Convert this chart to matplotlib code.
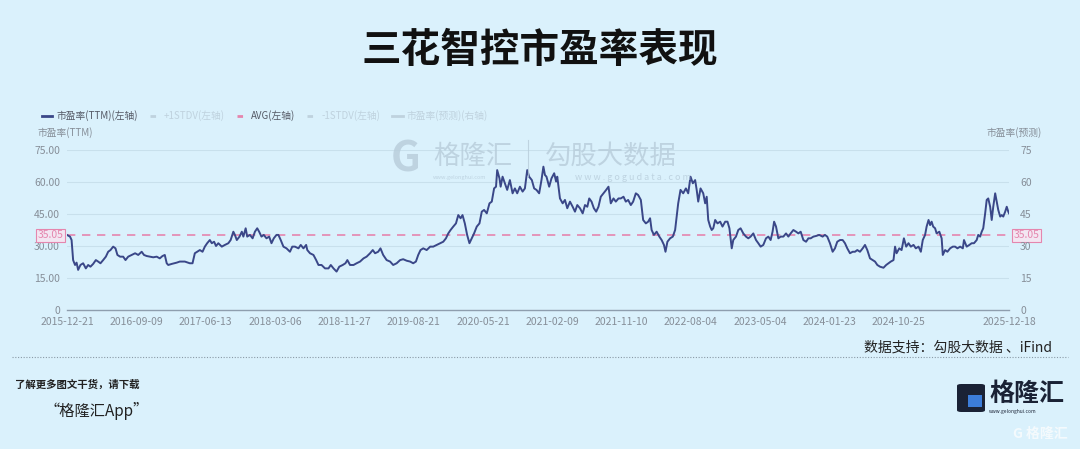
import matplotlib
matplotlib.use("Agg")
import matplotlib.pyplot as plt
from matplotlib.lines import Line2D
from matplotlib.patches import FancyBboxPatch

plt.rcParams['font.family'] = ['Noto Sans CJK SC', 'DejaVu Sans']

# trading-day number since 2015-12-21 and PE(TTM)
trade_day = [
    0, 8, 12, 16, 21, 25, 29, 35, 42, 49, 55, 61, 68, 75, 81, 87, 94, 101, 107, 113,
    120, 126, 131, 138, 146, 152, 159, 168, 177, 185, 194, 200, 207, 215, 224, 233, 241, 248, 254, 259,
    263, 272, 285, 293, 306, 319, 326, 332, 338, 345, 352, 358, 364, 371, 376, 382, 387, 393, 402, 410,
    419, 425, 432, 436, 441, 448, 454, 458, 464, 468, 475, 482, 488, 494, 499, 505, 511, 518, 525, 531,
    537, 544, 549, 555, 562, 570, 579, 585, 592, 601, 607, 614, 621, 624, 631, 640, 647, 653, 661, 670,
    679, 685, 692, 700, 707, 716, 723, 728, 735, 744, 752, 761, 770, 778, 787, 794, 800, 808, 814, 821,
    830, 839, 847, 856, 865, 873, 882, 891, 899, 906, 912, 918, 925, 934, 943, 951, 960, 969, 977, 984,
    990, 996, 1003, 1010, 1016, 1022, 1027, 1033, 1039, 1045, 1051, 1057, 1064, 1071, 1077, 1083, 1090, 1097, 1103, 1109,
    1114, 1117, 1123, 1126, 1131, 1137, 1143, 1150, 1157, 1163, 1169, 1176, 1183, 1189, 1195, 1200, 1207, 1213, 1219, 1226,
    1232, 1237, 1241, 1245, 1252, 1258, 1265, 1270, 1273, 1280, 1287, 1293, 1299, 1306, 1313, 1319, 1325, 1332, 1339, 1345,
    1351, 1356, 1362, 1368, 1374, 1380, 1386, 1393, 1400, 1406, 1412, 1419, 1425, 1432, 1438, 1445, 1451, 1457, 1464, 1470,
    1477, 1483, 1490, 1496, 1503, 1509, 1514, 1518, 1524, 1531, 1538, 1544, 1550, 1554, 1559, 1566, 1573, 1579, 1583, 1587,
    1593, 1600, 1607, 1613, 1619, 1625, 1631, 1635, 1639, 1645, 1652, 1657, 1661, 1665, 1670, 1674, 1678, 1683, 1689, 1696,
    1702, 1709, 1715, 1720, 1726, 1730, 1737, 1743, 1749, 1756, 1763, 1769, 1775, 1782, 1789, 1795, 1801, 1808, 1815, 1821,
    1827, 1832, 1836, 1841, 1847, 1853, 1860, 1867, 1873, 1879, 1886, 1893, 1899, 1905, 1912, 1919, 1925, 1931, 1938, 1945,
    1953, 1962, 1968, 1974, 1981, 1988, 1994, 2000, 2007, 2014, 2020, 2026, 2033, 2040, 2046, 2052, 2059, 2066, 2072, 2078,
    2085, 2092, 2098, 2104, 2111, 2120, 2127, 2133, 2139, 2146, 2150, 2154, 2161, 2167, 2173, 2179, 2185, 2191, 2198, 2204,
    2211, 2217, 2222, 2228, 2232, 2237, 2241, 2245, 2249, 2254, 2258, 2265, 2271, 2274, 2280, 2286, 2293, 2300, 2306, 2312,
    2319, 2326, 2329, 2336, 2343, 2349, 2355, 2362, 2366, 2371, 2375, 2379, 2384, 2388, 2392, 2397, 2401, 2405, 2410, 2414,
    2418, 2423, 2427, 2431, 2436, 2440, 2444, 2446,
]
pe_ttm = [
    35.2, 34.4, 32.8, 23.4, 21.1, 22.2, 18.8, 21.1, 21.9, 19.5, 21.1, 20.3, 21.6, 23.4, 22.7, 21.9, 23.4, 25.0, 27.3, 28.1,
    29.7, 28.9, 25.8, 25.0, 25.0, 23.4, 25.0, 25.8, 26.6, 25.8, 27.3, 25.8, 25.3, 25.0, 24.7, 25.0, 24.2, 25.3, 25.8, 21.9,
    21.1, 21.6, 22.2, 22.7, 22.7, 21.9, 21.9, 26.6, 27.3, 28.1, 27.3, 29.7, 31.3, 32.8, 31.3, 32.0, 30.0, 31.3, 29.7, 30.5,
    31.3, 32.8, 36.7, 35.2, 32.8, 34.4, 36.7, 34.4, 38.3, 34.4, 35.2, 33.6, 36.7, 38.3, 36.7, 34.4, 35.2, 33.6, 34.4, 31.3,
    33.6, 35.2, 35.2, 32.8, 29.7, 28.9, 27.3, 29.7, 29.7, 28.9, 30.5, 28.9, 30.5, 28.1, 26.6, 25.8, 23.4, 21.1, 21.1, 19.5,
    19.5, 21.1, 19.5, 18.0, 20.3, 21.1, 21.9, 23.4, 21.1, 21.1, 21.9, 22.7, 24.2, 25.0, 26.6, 28.1, 26.6, 27.3, 28.9, 25.8,
    23.4, 22.7, 21.1, 21.9, 23.4, 23.8, 23.1, 22.7, 21.9, 22.7, 25.8, 28.1, 28.9, 28.1, 29.7, 29.7, 30.5, 31.3, 32.0, 33.6,
    35.9, 37.5, 39.1, 40.6, 44.5, 43.0, 44.5, 40.6, 35.2, 31.3, 33.6, 35.9, 39.1, 40.6, 46.1, 46.9, 45.3, 50.0, 50.8, 57.0,
    57.8, 65.6, 61.7, 57.8, 62.5, 59.4, 56.3, 60.9, 54.7, 57.0, 54.7, 57.8, 55.5, 57.0, 65.6, 62.5, 60.9, 57.0, 56.3, 54.7,
    60.9, 67.2, 63.3, 62.5, 57.8, 61.7, 64.1, 60.2, 62.5, 52.3, 50.0, 51.6, 47.7, 50.8, 48.4, 46.1, 49.2, 47.7, 45.3, 49.2,
    48.4, 52.3, 50.8, 47.7, 46.1, 48.4, 53.1, 54.7, 56.3, 57.8, 50.0, 52.3, 50.8, 52.3, 52.3, 53.1, 50.8, 51.6, 49.2, 50.8,
    54.7, 53.9, 51.6, 42.2, 40.6, 41.4, 43.0, 37.5, 35.2, 36.7, 34.4, 32.8, 30.5, 27.3, 32.0, 33.6, 34.4, 37.5, 43.8, 50.0,
    56.3, 54.7, 57.0, 54.7, 62.5, 59.4, 60.9, 56.3, 50.8, 57.0, 54.7, 50.0, 53.1, 42.2, 39.1, 37.5, 38.3, 42.2, 40.6, 41.4,
    39.1, 41.4, 41.4, 38.3, 28.9, 32.8, 34.4, 37.5, 38.3, 35.9, 34.4, 33.6, 34.4, 35.9, 32.8, 31.3, 29.7, 30.5, 33.6, 34.4,
    32.8, 36.7, 41.4, 39.1, 33.6, 34.4, 34.4, 35.9, 34.4, 35.9, 37.5, 36.7, 35.9, 36.7, 32.8, 32.0, 33.6, 33.6, 34.4, 34.7,
    35.2, 34.4, 35.2, 34.4, 31.3, 27.3, 28.9, 32.0, 32.8, 32.8, 31.3, 28.9, 26.6, 27.3, 27.3, 28.1, 27.3, 28.9, 30.5, 28.1,
    24.2, 23.4, 22.7, 21.1, 20.3, 19.8, 21.1, 21.9, 22.7, 23.4, 29.7, 26.6, 28.9, 28.1, 33.6, 29.7, 31.3, 29.7, 30.5, 28.9,
    29.7, 27.3, 32.8, 35.2, 39.1, 42.2, 39.8, 41.4, 39.1, 38.3, 35.9, 36.7, 33.6, 25.8, 28.1, 27.3, 28.9, 29.7, 29.7, 28.9,
    29.7, 28.9, 32.8, 29.7, 30.5, 31.3, 31.3, 32.8, 35.2, 34.4, 36.7, 38.3, 45.3, 51.6, 52.3, 48.4, 42.2, 48.4, 54.7, 50.8,
    46.9, 43.8, 44.5, 43.8, 46.1, 48.4, 46.1, 45.3,
]
pe_avg = 35.05

tick_days = [0, 180, 360, 540, 720, 900, 1080, 1260, 1440, 1620, 1800, 1980, 2160, 2446]
tick_labels = ['2015-12-21', '2016-09-09', '2017-06-13', '2018-03-06', '2018-11-27',
               '2019-08-21', '2020-05-21', '2021-02-09', '2021-11-10', '2022-08-04',
               '2023-05-04', '2024-01-23', '2024-10-25', '2025-12-18']
y_ticks = [0, 15, 30, 45, 60, 75]
left_labels = ['0', '15.00', '30.00', '45.00', '60.00', '75.00']
right_labels = ['0', '15', '30', '45', '60', '75']

bg = '#DAF1FC'
navy = '#3A4788'
pink = '#E586AE'
grey = '#868E98'
wm = '#B7CCDA'

fig = plt.figure(figsize=(10.8, 4.49), dpi=100, facecolor=bg)
ax = fig.add_axes([0.062, 0.3096, 0.8723, 0.3563])
ax.set_facecolor(bg)

ax.set_xlim(0, tick_days[-1])
ax.set_ylim(0, 75)
for y in y_ticks[1:]:
    ax.axhline(y, color='#C8E0EC', lw=0.8, zorder=0)
ax.axhline(pe_avg, color=pink, lw=1.2, dashes=(5, 4), zorder=2)
ax.plot(trade_day, pe_ttm, color=navy, lw=1.4, zorder=3)

for s in ['top', 'right', 'left']:
    ax.spines[s].set_visible(False)
ax.spines['bottom'].set_color('#8E9EAE')
ax.spines['bottom'].set_linewidth(1)
ax.set_xticks(tick_days)
ax.set_xticklabels(tick_labels, fontsize=7.5, color=grey)
ax.set_yticks(y_ticks)
ax.set_yticklabels(left_labels, fontsize=7.5, color=grey)
ax.tick_params(length=0, pad=5)

ax2 = ax.twinx()
ax2.set_ylim(0, 75)
ax2.set_yticks(y_ticks)
ax2.set_yticklabels(right_labels, fontsize=7.5, color=grey)
ax2.tick_params(length=0, pad=8)
for s in ax2.spines.values():
    s.set_visible(False)

# avg value tags on both sides
box = dict(boxstyle='square,pad=0.15', fc='#F3E6F2', ec=pink, lw=0.8)
ax.text(-0.004, pe_avg, '35.05', transform=ax.get_yaxis_transform(), ha='right', va='center',
        fontsize=7.5, color=pink, bbox=box)
ax.text(1.005, pe_avg, '35.05', transform=ax.get_yaxis_transform(), ha='left', va='center',
        fontsize=7.5, color=pink, bbox=box)

# axis names
fig.text(37 / 1080, 1 - 133 / 449, '市盈率(TTM)', fontsize=7, color=grey, va='center')
fig.text(1042 / 1080, 1 - 133 / 449, '市盈率(预测)', fontsize=7, color=grey, va='center', ha='right')

# legend
faded = '#BFD2DE'
handles = [
    Line2D([], [], color=navy, lw=2),
    Line2D([], [], color=faded, lw=2, dashes=(2, 2)),
    Line2D([], [], color=pink, lw=2, dashes=(2, 2)),
    Line2D([], [], color=faded, lw=2, dashes=(2, 2)),
    Line2D([], [], color=faded, lw=2),
]
names = ['市盈率(TTM)(左轴)', '+1STDV(左轴)', 'AVG(左轴)', '-1STDV(左轴)', '市盈率(预测)(右轴)']
leg = fig.legend(handles, names, loc='center left', bbox_to_anchor=(33 / 1080, 1 - 116 / 449),
                 ncol=5, frameon=False, fontsize=7, handlelength=1.1, handletextpad=0.4,
                 columnspacing=1.2)
for t, c in zip(leg.get_texts(), ['#555a66', faded, '#555a66', faded, faded]):
    t.set_color(c)

# title
fig.text(0.5, 1 - 50 / 449, '三花智控市盈率表现', fontsize=28.5, fontweight='bold', color='#111111',
         ha='center', va='center')

# watermark
fig.text(406 / 1080, 1 - 160 / 449, 'G', fontsize=30, fontweight='bold', color=wm, ha='center',
         va='center', alpha=0.8)
fig.text(433 / 1080, 1 - 156 / 449, '格隆汇', fontsize=19, color=wm, va='center', alpha=0.8)
fig.text(433 / 1080, 1 - 177 / 449, 'www.gelonghui.com', fontsize=4, color=wm, va='center', alpha=0.8)
fig.add_artist(Line2D([528 / 1080, 528 / 1080], [1 - 140 / 449, 1 - 176 / 449], color=wm, lw=0.8, alpha=0.8))
fig.text(545 / 1080, 1 - 156 / 449, '勾股大数据', fontsize=19, color=wm, va='center', alpha=0.8)
fig.text(575 / 1080, 1 - 177 / 449, 'w w w . g o g u d a t a . c o m', fontsize=6.5, color=wm,
         va='center', alpha=0.8)

# footer
fig.text(1052 / 1080, 1 - 348 / 449, '数据支持：勾股大数据 、iFind', fontsize=10, color='#222222',
         ha='right', va='center')
fig.add_artist(Line2D([12 / 1080, 1068 / 1080], [1 - 357 / 449, 1 - 357 / 449], color='#8A9AA6',
                      lw=0.8, dashes=(1, 1.5)))
fig.text(15 / 1080, 1 - 385 / 449, '了解更多图文干货，请下载', fontsize=7.5, color='#222222',
         style='italic', fontweight='bold', va='center')
fig.text(45 / 1080, 1 - 411 / 449, '“格隆汇App”', fontsize=11, color='#222222', style='italic',
         va='center')

# logo
fig.add_artist(FancyBboxPatch((957 / 1080, 1 - 412 / 449), 28 / 1080, 28 / 449,
                              boxstyle='round,pad=0,rounding_size=0.004', fc='#1A2235', ec='none',
                              transform=fig.transFigure))
fig.add_artist(FancyBboxPatch((968 / 1080, 1 - 407 / 449), 14 / 1080, 12 / 449,
                              boxstyle='square,pad=0', fc='#3C7DD9', ec='none',
                              transform=fig.transFigure))
fig.text(989 / 1080, 1 - 394 / 449, '格隆汇', fontsize=18, fontweight='bold', color='#1A2235',
         va='center')
fig.text(989 / 1080, 1 - 411 / 449, 'www.gelonghui.com', fontsize=3.5, color='#1A2235', va='center')
fig.text(1040 / 1080, 1 - 434 / 449, 'G 格隆汇', fontsize=10, color='#F4FAFD', ha='center',
         va='center', fontweight='bold')

fig.savefig('out.png', dpi=100, facecolor=bg)
